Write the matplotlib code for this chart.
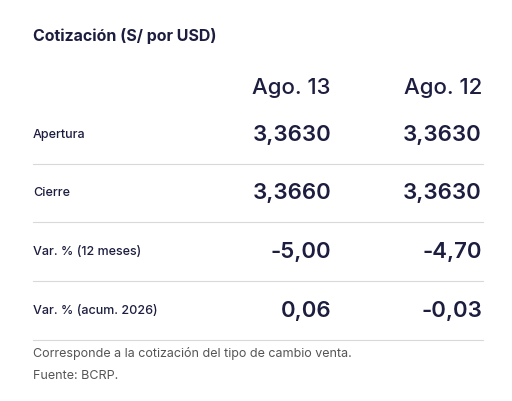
import matplotlib
matplotlib.use("Agg")
import matplotlib.pyplot as plt
from matplotlib.lines import Line2D

title = "Cotización (S/ por USD)"
columns = ["Ago. 13", "Ago. 12"]
row_labels = ["Apertura", "Cierre", "Var. % (12 meses)", "Var. % (acum. 2026)"]
col1 = ["3,3630", "3,3660", "-5,00", "0,06"]
col2 = ["3,3630", "3,3630", "-4,70", "-0,03"]
footer = ["Corresponde a la cotización del tipo de cambio venta.", "Fuente: BCRP."]

W, H = 512, 401
plt.rcParams['font.family'] = ['Inter', 'DejaVu Sans']
fig = plt.figure(figsize=(W/100, H/100), dpi=100)
fig.patch.set_facecolor("white")
navy = "#1c1d3f"

def T(x, y, s, **kw):
    fig.text(x/W, 1-y/H, s, va="center", color=kw.pop("color", navy), **kw)

T(33, 36, title, fontsize=11.5, fontweight="bold")
xs = [331, 482]
for x, c in zip(xs, columns):
    T(x, 88, c, fontsize=16, ha="right", fontweight="medium")
rows_y = [135, 193, 252, 311]
for y, lab, a, b in zip(rows_y, row_labels, col1, col2):
    T(33, y, lab, fontsize=9, fontweight="medium")
    T(xs[0], y, a, fontsize=16, ha="right", fontweight="semibold")
    T(xs[1], y, b, fontsize=16, ha="right", fontweight="semibold")
for y in [164, 222, 281, 340]:
    fig.add_artist(Line2D([33/W, 483/W], [1-y/H]*2, color="#d9d9d9", lw=0.8))
T(33, 353, footer[0], fontsize=9, color="#555555")
T(33, 376, footer[1], fontsize=9, color="#555555")
fig.savefig("out.png", dpi=100)
